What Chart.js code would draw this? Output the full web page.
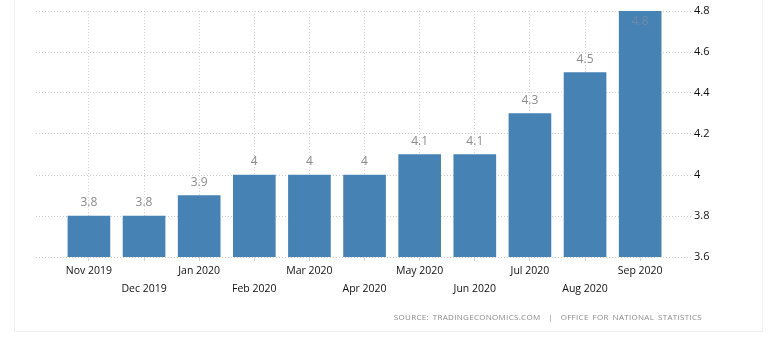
<!DOCTYPE html>
<html><head><meta charset="utf-8">
<script src="https://cdn.jsdelivr.net/npm/chart.js@4/dist/chart.umd.min.js"></script>
<style>
html,body{margin:0;padding:0;background:#fff;}
#wrap{position:relative;width:776px;height:356px;overflow:hidden;}
#panel{position:absolute;left:14px;top:-2px;width:749px;height:334px;border:1px solid #efefef;box-sizing:border-box;}
#c{position:absolute;left:0;top:0;}
#src{position:absolute;right:74px;top:311px;font:8px "Open Sans",sans-serif;color:#8a8a8a;letter-spacing:0.3px;word-spacing:1.5px;white-space:nowrap;}
</style></head>
<body><div id="wrap"><div id="panel"></div><canvas id="c" width="776" height="356"></canvas>
<div id="src">SOURCE: TRADINGECONOMICS.COM &nbsp;| &nbsp;OFFICE FOR NATIONAL STATISTICS</div></div>
<script>
const categories = ["Nov 2019","Dec 2019","Jan 2020","Feb 2020","Mar 2020","Apr 2020","May 2020","Jun 2020","Jul 2020","Aug 2020","Sep 2020"];
const values = [3.8,3.8,3.9,4,4,4,4.1,4.1,4.3,4.5,4.8];
const yTicks = [3.6,3.8,4,4.2,4.4,4.6,4.8];

const points = categories.map((c,i)=>({x:i,y:values[i]}));

const valueLabels = {
  id:'valueLabels',
  afterDatasetsDraw(chart){
    const ctx = chart.ctx;
    const meta = chart.getDatasetMeta(0);
    ctx.save();
    ctx.font = '12px "Open Sans", sans-serif';
    ctx.textAlign = 'center';
    ctx.textBaseline = 'middle';
    meta.data.forEach((bar,i)=>{
      let y = bar.y - 13;
      ctx.fillStyle = '#8c8c8c';
      if (y < chart.chartArea.top + 2) { y = bar.y + 11; ctx.fillStyle = '#6f8aa3'; }
      ctx.fillText(String(values[i]), bar.x, y);
    });
    ctx.restore();
  }
};

new Chart(document.getElementById('c'), {
  type:'bar',
  data:{datasets:[{data:points, backgroundColor:'#4682b4', barThickness:42, borderWidth:0}]},
  options:{
    responsive:false, animation:false,
    layout:{padding:{left:36, top:11, right:0, bottom:0}},
    plugins:{legend:{display:false}, tooltip:{enabled:false}},
    scales:{
      x:{type:'linear', min:-0.96, max:10.94, position:'bottom', offset:false,
         afterBuildTicks(s){ s.ticks = categories.map((c,i)=>({value:i})); },
         afterFit(s){ s.height = 99; },
         grid:{display:true, offset:false, color:'#d4d4d4', borderDash:[1,2], tickLength:4, drawOnChartArea:true},
         border:{display:false, dash:[1,2]},
         ticks:{autoSkip:false, maxRotation:0, padding:1, color:'#111',
           font:{family:'"Open Sans", sans-serif', size:10.5, lineHeight:'18px'},
           callback(v){ const i = Math.round(v); return i % 2 === 0 ? categories[i] : ['', categories[i]]; }
         }
      },
      y:{position:'right', min:3.6, max:4.8,
         afterBuildTicks(s){ s.ticks = yTicks.map(v=>({value:v})); },
         afterFit(s){ s.width = 84; },
         grid:{color:'#cccccc', drawTicks:false},
         border:{display:false, dash:[1,2]},
         ticks:{padding:2, color:'#111', font:{family:'"Open Sans", sans-serif', size:11},
           callback(v){ return String(Math.round(v*10)/10); } }
      }
    }
  },
  plugins:[valueLabels]
});
</script></body></html>
